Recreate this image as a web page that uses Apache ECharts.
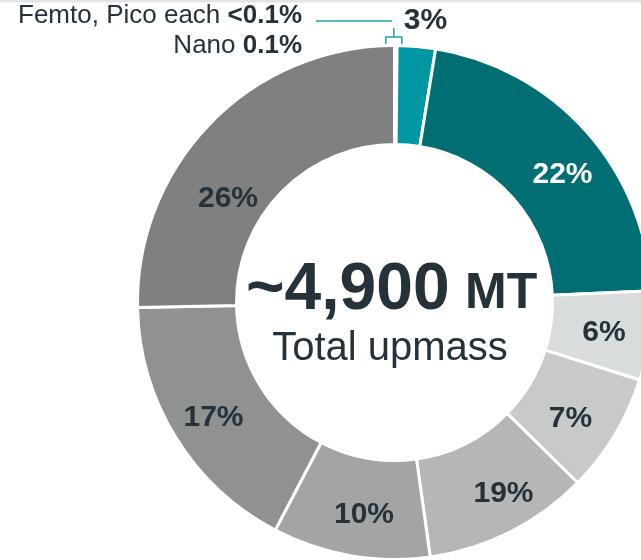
<!DOCTYPE html>
<html><head><meta charset="utf-8">
<script src="https://cdn.jsdelivr.net/npm/echarts@6/dist/echarts.min.js"></script>
<style>html,body{margin:0;padding:0;background:#fff}#c{width:641px;height:560px}</style>
</head><body><div id="c"></div>
<script>
// ---- data ----
const categories = ['Femto', 'Pico', 'Nano', 'Segment 3%', 'Segment 22%', 'Segment 6%', 'Segment 7%', 'Segment 19%', 'Segment 10%', 'Segment 17%', 'Segment 26%'];
const values = [0.03, 0.03, 0.1, 2.4, 21.7, 5.6, 7.5, 10.4, 9.9, 17.0, 25.3];
const sliceLabels = ['', '', '', '3%', '22%', '6%', '7%', '19%', '10%', '17%', '26%'];
const totalText = '~4,900';
const totalUnit = 'MT';
const totalCaption = 'Total upmass';
const smallNoteLine1 = ['Femto, Pico each ', '<0.1%'];
const smallNoteLine2 = ['Nano ', '0.1%'];

// ---- styles / layout ----
const colors = ['#0097a2', '#0097a2', '#0097a2', '#0097a2', '#006e73', '#d9dcdc', '#c8c9c9', '#b5b6b6', '#a3a4a4', '#909191', '#808080'];
const labelColors = ['#25323a', '#25323a', '#25323a', '#25323a', '#ffffff', '#25323a', '#25323a', '#25323a', '#25323a', '#25323a', '#25323a'];
const labelCenters = [null, null, null, [425.5, 21], [562.5, 174.5], [604, 332.5], [570.5, 419], [503.5, 494], [364, 515], [213.5, 417.5], [228, 199]];
const cx = 394.5, cy = 302.5, r0 = 158, r1 = 257;
const FONT = '"Liberation Sans", Arial, Helvetica, sans-serif';
const DARK = '#25323a';
const LEAD = '#1fa3ab';

const total = values.reduce((a, b) => a + b, 0);
let acc = 0;
const data = values.map((v, i) => {
  const mid = (acc + v / 2) / total * 2 * Math.PI;
  acc += v;
  const rm = (r0 + r1) / 2 + 3;
  const px = cx + rm * Math.sin(mid), py = cy - rm * Math.cos(mid);
  const t = labelCenters[i];
  return {
    name: categories[i],
    value: v,
    itemStyle: { color: colors[i] },
    label: t ? {
      show: true,
      formatter: sliceLabels[i],
      color: labelColors[i],
      offset: [t[0] - px, t[1] - py]
    } : { show: false }
  };
});

// leader bracket for the tiny slices, placed from the data angles
const tinyTotal = values[0] + values[1] + values[2];
const tinyMid = (tinyTotal / 2) / total * 2 * Math.PI;
const bx = cx + r1 * Math.sin(tinyMid) - 2;
const topY = cy - r1 * Math.cos(tinyMid);

const chart = echarts.init(document.getElementById('c'), null, { renderer: 'canvas' });
chart.setOption({
  animation: false,
  backgroundColor: '#ffffff',
  series: [{
    type: 'pie',
    silent: true,
    center: [cx, cy],
    radius: [r0, r1],
    startAngle: 90,
    clockwise: true,
    avoidLabelOverlap: false,
    itemStyle: { borderColor: '#ffffff', borderWidth: 3 },
    label: {
      position: 'inside',
      fontFamily: FONT,
      fontSize: 30,
      fontWeight: 'bold',
      rotate: 0
    },
    labelLine: { show: false },
    emphasis: { disabled: true },
    data: data
  }],
  graphic: [
    { type: 'rect', shape: { x: 0, y: 0, width: 641, height: 2.5 }, style: { fill: '#e1e5e7' }, silent: true },
    { type: 'text', x: 246, y: 290.5, silent: true,
      style: { text: totalText, font: 'bold 66px ' + FONT, fill: DARK, align: 'left', textAlign: 'left', verticalAlign: 'middle', textVerticalAlign: 'middle' } },
    { type: 'text', x: 465, y: 294, silent: true,
      style: { text: totalUnit, font: 'bold 50px ' + FONT, fill: DARK, align: 'left', textAlign: 'left', verticalAlign: 'middle', textVerticalAlign: 'middle' } },
    { type: 'text', x: 390, y: 349, silent: true,
      style: { text: totalCaption, font: '40px ' + FONT, fill: DARK, align: 'center', textAlign: 'center', verticalAlign: 'middle', textVerticalAlign: 'middle' } },
    { type: 'text', x: 302, y: 1, silent: true,
      style: {
        text: '{r|' + smallNoteLine1[0] + '}{b|' + smallNoteLine1[1] + '}\n{r|' + smallNoteLine2[0] + '}{b|' + smallNoteLine2[1] + '}',
        align: 'right', textAlign: 'right', verticalAlign: 'top', textVerticalAlign: 'top',
        fill: DARK,
        rich: {
          r: { fontFamily: FONT, fontSize: 26, fontWeight: 'normal', lineHeight: 30, fill: DARK, color: DARK },
          b: { fontFamily: FONT, fontSize: 26, fontWeight: 'bold', lineHeight: 30, fill: DARK, color: DARK }
        }
      } },
    { type: 'polyline', silent: true, shape: { points: [[316, 21], [bx - 1.5, 21]] }, style: { stroke: LEAD, lineWidth: 1.5, fill: null } },
    { type: 'polyline', silent: true, shape: { points: [[bx, 28], [bx, 37]] }, style: { stroke: LEAD, lineWidth: 1.5, fill: null } },
    { type: 'polyline', silent: true, shape: { points: [[bx - 8, topY - 1], [bx - 8, 37], [bx + 8, 37], [bx + 8, topY - 1]] }, style: { stroke: LEAD, lineWidth: 1.5, fill: null } }
  ]
});
</script>
</body></html>
